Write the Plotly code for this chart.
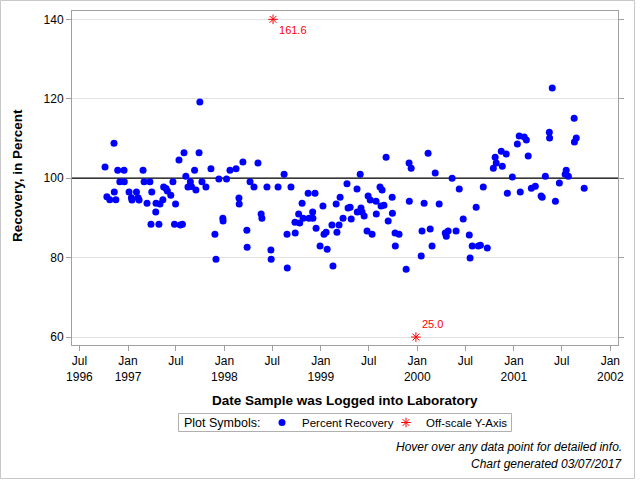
import plotly.graph_objects as go

# ---------------- data ----------------
dates_1996 = ["1996-10-06", "1996-10-13", "1996-10-24", "1996-11-09", "1996-11-10",
              "1996-11-16", "1996-11-23", "1996-12-01", "1996-12-17", "1996-12-18"]
vals_1996 = [102.8, 95.3, 94.6, 108.8, 96.5, 94.6, 102.0, 99.1, 102.0, 99.1]

dates_1997 = ["1997-01-05", "1997-01-14", "1997-01-16", "1997-02-02", "1997-02-08", "1997-02-12",
              "1997-02-27", "1997-03-03", "1997-03-14", "1997-03-25", "1997-03-29", "1997-04-01",
              "1997-04-16", "1997-04-17", "1997-04-28", "1997-05-02", "1997-05-13", "1997-05-16",
              "1997-05-25", "1997-05-30", "1997-06-12", "1997-06-20", "1997-06-26", "1997-06-30",
              "1997-07-13", "1997-07-18", "1997-07-26", "1997-08-01", "1997-08-08", "1997-08-16",
              "1997-08-25", "1997-08-29", "1997-09-10", "1997-09-15", "1997-09-27", "1997-09-30",
              "1997-10-08", "1997-10-23", "1997-11-11", "1997-11-26", "1997-11-30", "1997-12-11",
              "1997-12-26", "1997-12-27"]
vals_1997 = [96.5, 95.1, 94.5, 96.5, 95.1, 94.5,
             102.0, 99.1, 93.7, 99.1, 88.4, 96.5,
             91.5, 93.7, 88.4, 93.5, 94.6, 97.8,
             97.4, 96.8, 95.7, 99.1, 88.4, 93.5,
             104.6, 88.2, 88.4, 106.4, 100.5, 97.8,
             99.1, 97.9, 102.0, 97.0, 106.4, 119.2,
             99.1, 97.8, 102.4, 85.9, 79.6, 99.8,
             89.9, 89.2]

dates_1998 = ["1998-01-09", "1998-01-22", "1998-02-14", "1998-02-25", "1998-02-26", "1998-03-12",
              "1998-03-27", "1998-03-28", "1998-04-08", "1998-04-23", "1998-05-08", "1998-05-20",
              "1998-05-23", "1998-06-11", "1998-06-26", "1998-06-27", "1998-07-23", "1998-08-15",
              "1998-08-26", "1998-08-27", "1998-09-10", "1998-09-25", "1998-09-26", "1998-10-09",
              "1998-10-13", "1998-10-22", "1998-10-26", "1998-11-14", "1998-11-17", "1998-12-01",
              "1998-12-02", "1998-12-10", "1998-12-14", "1998-12-29"]
vals_1998 = [99.8, 102.0, 102.4, 95.0, 93.5, 104.1,
             86.9, 82.6, 99.1, 97.8, 103.8, 91.0,
             89.9, 97.8, 81.9, 79.6, 97.8, 101.0,
             85.9, 77.4, 97.8, 88.9, 86.2, 91.0,
             88.7, 93.7, 89.9, 96.2, 89.9, 91.5,
             89.9, 96.2, 87.4, 82.9]

dates_1999 = ["1999-01-09", "1999-01-13", "1999-01-21", "1999-01-25", "1999-02-12", "1999-02-16",
              "1999-02-28", "1999-03-03", "1999-03-11", "1999-03-15", "1999-03-26", "1999-04-10",
              "1999-04-14", "1999-04-22", "1999-04-26", "1999-05-18", "1999-05-19", "1999-05-30",
              "1999-06-02", "1999-06-06", "1999-06-14", "1999-06-25", "1999-06-29", "1999-07-07",
              "1999-07-14", "1999-07-29", "1999-07-30", "1999-08-13", "1999-08-17", "1999-08-21",
              "1999-08-28", "1999-09-05", "1999-09-13", "1999-09-28", "1999-09-29", "1999-10-09",
              "1999-10-10", "1999-10-24", "1999-11-20", "1999-12-01", "1999-12-02", "1999-12-09"]
vals_1999 = [93.0, 85.9, 86.4, 82.1, 88.2, 77.9,
             93.5, 86.4, 88.2, 95.2, 89.9, 98.6,
             92.5, 92.7, 89.7, 97.3, 91.5, 101.0,
             92.5, 91.5, 90.5, 86.7, 95.5, 94.5,
             85.9, 94.2, 91.0, 97.8, 93.0, 97.0,
             93.2, 105.3, 89.2, 95.2, 91.2, 86.2,
             82.9, 85.9, 77.1, 103.8, 94.2, 102.5]

dates_2000 = ["2000-01-16", "2000-01-19", "2000-01-27", "2000-02-11", "2000-02-19", "2000-02-26",
              "2000-03-09", "2000-03-24", "2000-04-16", "2000-04-20", "2000-04-27", "2000-05-12",
              "2000-05-27", "2000-06-08", "2000-06-23", "2000-07-16", "2000-07-19", "2000-07-27",
              "2000-08-11", "2000-08-19", "2000-08-27", "2000-09-07", "2000-09-22", "2000-10-15",
              "2000-10-22", "2000-10-26", "2000-11-14", "2000-11-18", "2000-12-03", "2000-12-07",
              "2000-12-26"]
vals_2000 = [80.4, 86.7, 93.7, 106.3, 87.2, 82.9,
             101.3, 93.5, 86.2, 85.4, 86.7, 100.0,
             86.7, 97.3, 89.7, 85.7, 79.9, 82.9,
             92.7, 82.9, 83.1, 97.8, 82.4, 102.5,
             105.3, 103.8, 106.8, 103.0, 106.1, 96.2,
             100.3]

dates_2001 = ["2001-01-14", "2001-01-21", "2001-01-25", "2001-02-09", "2001-02-17", "2001-02-24",
              "2001-03-08", "2001-03-23", "2001-04-14", "2001-04-18", "2001-04-30", "2001-05-15",
              "2001-05-16", "2001-05-26", "2001-06-07", "2001-06-22", "2001-07-14", "2001-07-18",
              "2001-07-26", "2001-08-17", "2001-08-18", "2001-08-25", "2001-09-24"]
vals_2001 = [108.6, 110.6, 96.5, 110.4, 109.6, 105.6,
             97.5, 98.0, 95.5, 95.2, 100.5, 111.6,
             110.1, 122.7, 94.2, 98.8, 101.0, 102.0,
             100.5, 115.1, 109.1, 110.1, 97.5]

offscale_dates = ["1998-07-04", "1999-12-27"]
offscale_vals = [161.6, 25.0]

x_tick_dates = ["1996-07-01", "1997-01-01", "1997-07-01", "1998-01-01", "1998-07-01", "1999-01-01",
                "1999-07-01", "2000-01-01", "2000-07-01", "2001-01-01", "2001-07-01", "2002-01-01"]
x_tick_labels = ["Jul<br>1996", "Jan<br>1997", "Jul", "Jan<br>1998", "Jul", "Jan<br>1999",
                 "Jul", "Jan<br>2000", "Jul", "Jan<br>2001", "Jul", "Jan<br>2002"]
y_ticks = [60, 80, 100, 120, 140]
ref_value = 100
x_range = ["1996-06-03", "2002-01-30"]
y_range = [58.0, 142.1]

dates = dates_1996 + dates_1997 + dates_1998 + dates_1999 + dates_2000 + dates_2001
vals = vals_1996 + vals_1997 + vals_1998 + vals_1999 + vals_2000 + vals_2001

y_lo, y_hi = min(y_ticks), max(y_ticks)
off_plot_y = [min(max(v, y_lo), y_hi) for v in offscale_vals]
off_text = [f"{v:.1f}" for v in offscale_vals]
off_pos = ["bottom right" if v > y_hi else "top right" for v in offscale_vals]

FONT = "Liberation Sans, Arial, sans-serif"
FRAME = "#A0A0A0"

fig = go.Figure()
# reference line at 100 % (drawn first so markers sit on top of it)
fig.add_trace(go.Scatter(
    x=x_range, y=[ref_value, ref_value], mode="lines",
    line=dict(color="black", width=1.3), showlegend=False, hoverinfo="skip",
))
fig.add_trace(go.Scatter(
    x=dates, y=vals, mode="markers", name="Percent Recovery", legend="legend",
    marker=dict(color="#0000FF", size=7, symbol="circle"),
    hovertemplate="%{x|%b %d, %Y}<br>Recovery: %{y:.1f}%<extra></extra>",
))
fig.add_trace(go.Scatter(
    x=offscale_dates, y=off_plot_y, mode="markers+text", name="Off-scale Y-Axis", legend="legend2",
    text=off_text, textposition=off_pos,
    textfont=dict(color="#FF0000", size=11, family=FONT),
    marker=dict(color="#FF0000", size=8, symbol="asterisk-open",
                line=dict(color="#FF0000", width=1)),
    cliponaxis=False,
    customdata=offscale_vals,
    hovertemplate="%{x|%b %d, %Y}<br>Recovery: %{customdata:.1f}%<extra></extra>",
))

L, R, T, B = 72, 22, 11, 135
W, H = 640, 480
pw, ph = W - L - R, H - T - B


def px_x(px):
    return (px - L) / pw


def px_y(py):
    return (H - B - py) / ph


LEG_Y = 422.5
legend_common = dict(
    orientation="h", xanchor="left", y=px_y(LEG_Y), yanchor="middle",
    borderwidth=0, bgcolor="rgba(0,0,0,0)",
    font=dict(size=11.5, family=FONT), itemwidth=30,
    itemclick=False, itemdoubleclick=False,
)

fig.update_layout(
    width=W, height=H,
    margin=dict(l=L, r=R, t=T, b=B, pad=0, autoexpand=False),
    paper_bgcolor="white", plot_bgcolor="white",
    font=dict(family=FONT, size=12, color="black"),
    showlegend=True,
    legend=dict(x=px_x(262), **legend_common),
    legend2=dict(x=px_x(386), **legend_common),
    xaxis=dict(
        type="date", range=x_range,
        tickmode="array", tickvals=x_tick_dates, ticktext=x_tick_labels,
        ticks="outside", ticklen=5, tickcolor=FRAME,
        showline=True, linecolor=FRAME, linewidth=1, mirror=True,
        showgrid=False, zeroline=False, automargin=False,
        tickfont=dict(size=12, family=FONT),
    ),
    yaxis=dict(
        range=y_range, tickvals=y_ticks,
        ticks="outside", ticklen=5, tickcolor=FRAME,
        showline=True, linecolor=FRAME, linewidth=1, mirror="ticks",
        showgrid=True, gridcolor="#E3E3E3", gridwidth=1, zeroline=False, automargin=False,
        tickfont=dict(size=12, family=FONT),
    ),
    annotations=[
        dict(text="<b>Date Sample was Logged into Laboratory</b>", xref="paper", yref="paper",
             x=0.5, y=px_y(400), xanchor="center", yanchor="middle", showarrow=False,
             font=dict(size=13.5, family=FONT)),
        dict(text="<b>Recovery, in Percent</b>", xref="paper", yref="paper",
             x=px_x(18), y=px_y(176), xanchor="center", yanchor="middle", textangle=-90,
             showarrow=False, font=dict(size=13.5, family=FONT)),
        dict(text="Plot Symbols:", xref="paper", yref="paper",
             x=px_x(182), y=px_y(LEG_Y), xanchor="left", yanchor="middle", showarrow=False,
             font=dict(size=12.5, family=FONT)),
        dict(text="<i>Hover over any data point for detailed info.</i>", xref="paper", yref="paper",
             x=px_x(624), y=px_y(447), xanchor="right", yanchor="middle", showarrow=False,
             font=dict(size=12, family=FONT)),
        dict(text="<i>Chart generated 03/07/2017</i>", xref="paper", yref="paper",
             x=px_x(624), y=px_y(464), xanchor="right", yanchor="middle", showarrow=False,
             font=dict(size=12, family=FONT)),
    ],
    shapes=[
        dict(type="rect", xref="paper", yref="paper",
             x0=px_x(0.5), x1=px_x(634.5), y0=px_y(478.5), y1=px_y(0.5),
             line=dict(color="#C8C8C8", width=1), fillcolor="rgba(0,0,0,0)", layer="below"),
        dict(type="rect", xref="paper", yref="paper",
             x0=px_x(178.5), x1=px_x(511.5), y0=px_y(431.5), y1=px_y(413.5),
             line=dict(color="#B0B0B0", width=1), fillcolor="rgba(0,0,0,0)", layer="below"),
    ],
)

fig.write_html("out.html", config={"displayModeBar": False},
               post_script="document.body.style.margin='0px';")
